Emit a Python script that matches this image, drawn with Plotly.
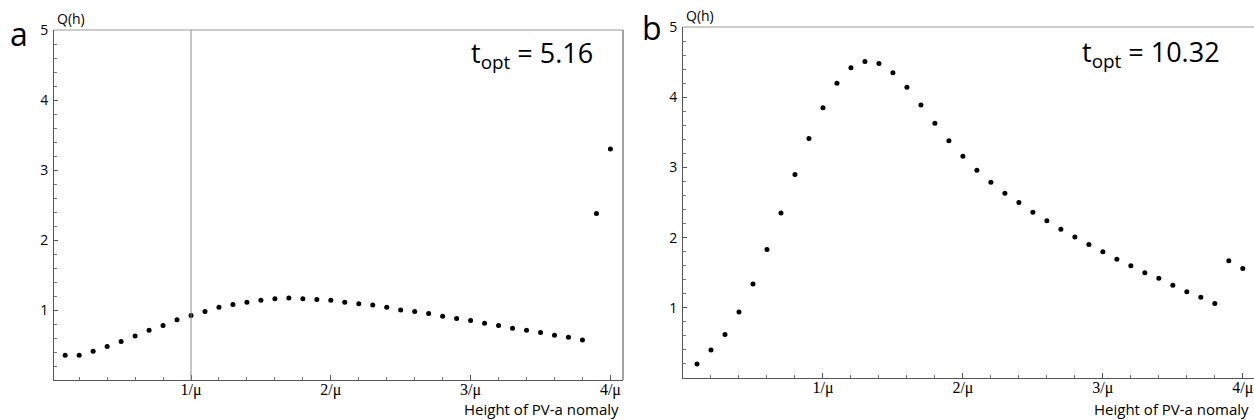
import plotly.graph_objects as go

# x positions in units of 1/mu
h_values = [0.1, 0.2, 0.3, 0.4, 0.5, 0.6, 0.7, 0.8, 0.9, 1.0,
            1.1, 1.2, 1.3, 1.4, 1.5, 1.6, 1.7, 1.8, 1.9, 2.0,
            2.1, 2.2, 2.3, 2.4, 2.5, 2.6, 2.7, 2.8, 2.9, 3.0,
            3.1, 3.2, 3.3, 3.4, 3.5, 3.6, 3.7, 3.8, 3.9, 4.0]

q_a = [0.355, 0.355, 0.41, 0.48, 0.55, 0.63, 0.71, 0.78, 0.86, 0.92,
       0.98, 1.04, 1.08, 1.11, 1.14, 1.16, 1.17, 1.16, 1.15, 1.14,
       1.11, 1.09, 1.07, 1.04, 1.00, 0.98, 0.95, 0.91, 0.88, 0.85,
       0.81, 0.78, 0.74, 0.71, 0.68, 0.64, 0.61, 0.57, 2.38, 3.30]

q_b = [0.20, 0.40, 0.62, 0.94, 1.34, 1.83, 2.35, 2.90, 3.41, 3.85,
       4.20, 4.42, 4.51, 4.48, 4.35, 4.14, 3.89, 3.63, 3.38, 3.16,
       2.96, 2.79, 2.63, 2.50, 2.36, 2.24, 2.12, 2.01, 1.90, 1.80,
       1.69, 1.60, 1.50, 1.42, 1.32, 1.23, 1.15, 1.06, 1.67, 1.56]

x_tick_vals = [1, 2, 3, 4]
x_tick_text = ["1/\u03bc", "2/\u03bc", "3/\u03bc", "4/\u03bc"]
y_tick_vals = [1, 2, 3, 4, 5]
y_tick_text = ["1", "2", "3", "4", "5"]

W, H = 1254, 420
SANS = "Open Sans"
SERIF = "Liberation Serif"

fig = go.Figure()
fig.add_trace(go.Scatter(x=h_values, y=q_a, mode="markers",
                         marker=dict(color="black", size=5), xaxis="x", yaxis="y",
                         showlegend=False, hoverinfo="skip"))
fig.add_trace(go.Scatter(x=h_values, y=q_b, mode="markers",
                         marker=dict(color="black", size=5), xaxis="x2", yaxis="y2",
                         showlegend=False, hoverinfo="skip"))

def px_x(p):
    return p / W

def px_y(p):
    return (H - p) / H

axis_line = "#555555"
xcommon = dict(tickmode="array", tickvals=x_tick_vals, ticktext=x_tick_text,
               ticks="inside", ticklen=5, tickcolor=axis_line,
               showline=True, linecolor=axis_line, linewidth=1,
               showgrid=False, zeroline=False, automargin=False,
               ticklabelstandoff=-5,
               tickfont=dict(family=SERIF, size=16, color="black"),
               minor=dict(ticks="inside", ticklen=3, dtick=0.2, tick0=0, tickcolor="#777777", showgrid=False))
ycommon = dict(tickmode="array", tickvals=y_tick_vals, ticktext=y_tick_text,
               ticks="inside", ticklen=4, tickcolor=axis_line,
               showline=True, linecolor=axis_line, linewidth=1,
               showgrid=False, zeroline=False, range=[0, 5], automargin=False,
               ticklabelstandoff=2,
               tickfont=dict(family=SANS, size=14, color="black"),
               minor=dict(ticks="inside", ticklen=3, dtick=0.2, tick0=0, tickcolor="#777777", showgrid=False))

fig.update_layout(
    template="none",
    width=W, height=H, margin=dict(l=0, r=0, t=0, b=0, pad=0),
    plot_bgcolor="white", paper_bgcolor="white",
    xaxis=dict(domain=[px_x(54), px_x(623)], range=[0.02, 4.09], anchor="y", **xcommon),
    yaxis=dict(domain=[px_y(380), px_y(30)], anchor="x", **ycommon),
    xaxis2=dict(domain=[px_x(683), 1.0], range=[0.0, 4.08], anchor="y2", **xcommon),
    yaxis2=dict(domain=[px_y(378), px_y(27)], anchor="x2", **ycommon),
)

shapes = [
    # vertical reference line at 1/mu in panel a
    dict(type="line", xref="x", yref="y domain", x0=1.0, x1=1.0, y0=0, y1=1,
         line=dict(color="#888888", width=1)),
    # top frame of panel a
    dict(type="line", xref="x domain", yref="y domain", x0=0, x1=1, y0=1, y1=1,
         line=dict(color="#999999", width=1)),
    # right frame of panel a
    dict(type="line", xref="x domain", yref="y domain", x0=1, x1=1, y0=0, y1=1,
         line=dict(color="#444444", width=1)),
    # top frame of panel b
    dict(type="line", xref="x2 domain", yref="y2 domain", x0=0, x1=1, y0=1, y1=1,
         line=dict(color="#999999", width=1)),
]
fig.update_layout(shapes=shapes)

ann = []
def add_text(text, x, y, size, xanchor="center", yanchor="middle", family=SANS):
    ann.append(dict(text=text, x=px_x(x), y=px_y(y), xref="paper", yref="paper",
                    xanchor=xanchor, yanchor=yanchor, showarrow=False,
                    font=dict(family=family, size=size, color="black")))

add_text("a", 19, 33, 32)
add_text("b", 652, 28, 32)
add_text("Q(h)", 55, 19, 14, xanchor="left")
add_text("Q(h)", 684, 16, 14, xanchor="left")
add_text("t<sub>opt</sub> = 5.16", 532, 55, 27)
add_text("t<sub>opt</sub> = 10.32", 1151, 53, 27)
add_text("Height of PV-a nomaly", 621, 409, 15, xanchor="right")
add_text("Height of PV-a nomaly", 1251, 409, 15, xanchor="right")
fig.update_layout(annotations=ann)

fig.write_html("out.html")
